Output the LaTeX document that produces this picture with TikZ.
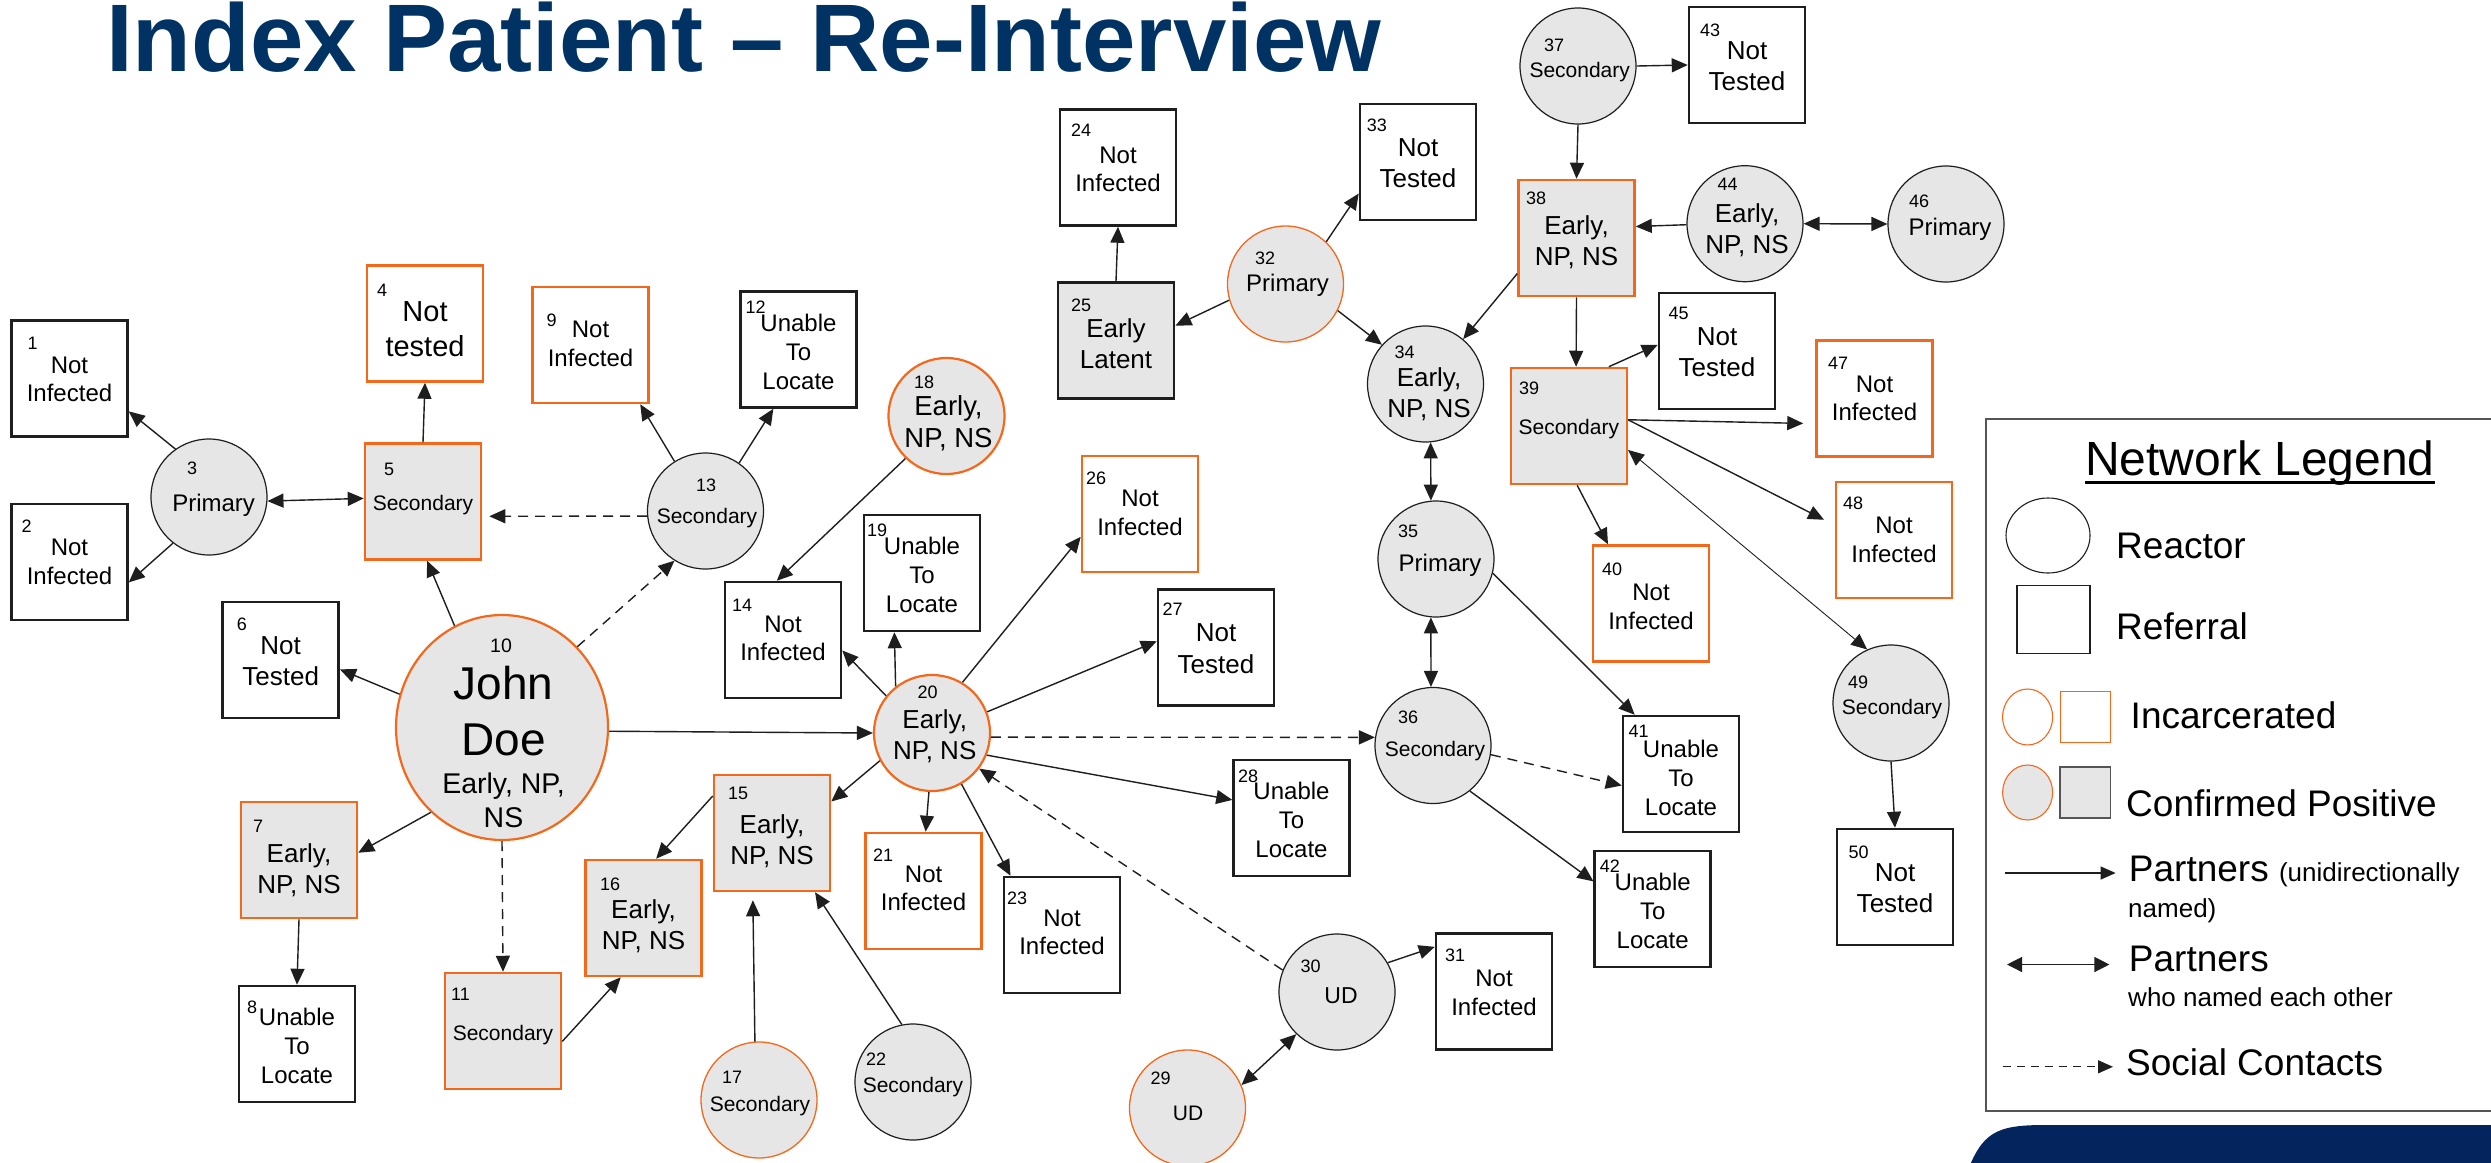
\documentclass[tikz,border=0pt]{standalone}
\usepackage{fontspec}
\setmainfont{Liberation Sans}
\usetikzlibrary{arrows.meta,calc,shapes.geometric}
\definecolor{orng}{RGB}{244,104,28}
\definecolor{gfill}{RGB}{230,230,230}
\definecolor{ink}{RGB}{30,30,30}
\definecolor{titleblue}{RGB}{0,50,100}
\definecolor{navy}{RGB}{4,36,94}
\definecolor{lgray}{RGB}{85,85,85}
\tikzset{
  box/.style={rectangle, draw=ink, line width=2.5pt, fill=white, minimum width=116pt, minimum height=116pt, inner sep=0pt},
  obox/.style={box, draw=orng},
  gobox/.style={box, draw=orng, fill=gfill},
  gbox/.style={box, fill=gfill, line width=2.8pt},
  circ/.style={circle, draw=ink, line width=1.2pt, fill=gfill, minimum size=116pt, inner sep=0pt},
  ocirc/.style={circ, draw=orng, line width=1.3pt},
  ocircT/.style={circ, draw=orng, line width=2.2pt},
  num/.style={font=\fontsize{18}{20}\selectfont, inner sep=0pt, anchor=base west},
  tNI/.style={font=\fontsize{24}{28.7}\selectfont, align=center, inner sep=0pt},
  tNT/.style={font=\fontsize{26}{31.5}\selectfont, align=center, inner sep=0pt},
  tNTs/.style={font=\fontsize{29}{35}\selectfont, align=center, inner sep=0pt},
  tU/.style={font=\fontsize{24}{29}\selectfont, align=center, inner sep=0pt},
  tE/.style={font=\fontsize{26}{31}\selectfont, align=center, inner sep=0pt},
  tEb/.style={font=\fontsize{27.5}{31.5}\selectfont, align=center, inner sep=0pt},
  tS/.style={font=\fontsize{21}{25}\selectfont, align=center, inner sep=0pt},
  tP/.style={font=\fontsize{24}{28}\selectfont, align=center, inner sep=0pt},
  tUD/.style={font=\fontsize{23}{27}\selectfont, align=center, inner sep=0pt},
  tUDs/.style={font=\fontsize{21}{25}\selectfont, align=center, inner sep=0pt},
  arr/.style={draw=ink, line width=1.4pt, -{Triangle[length=16pt,width=14pt]}},
  darr/.style={draw=ink, line width=1.4pt, {Triangle[length=16pt,width=14pt]}-{Triangle[length=16pt,width=14pt]}},
  dasharr/.style={arr, dash pattern=on 10pt off 7pt},
  lt/.style={font=\fontsize{37}{40}\selectfont, anchor=base west, inner sep=0pt},
  lts/.style={font=\fontsize{26}{28}\selectfont, anchor=base west, inner sep=0pt},
  larr/.style={draw=ink, line width=1.3pt, -{Triangle[length=15pt,width=13pt]}},
}
\newcommand\PN[8]{%
  \node[#1] (n#2) at (#3) {};
  \node[num] (k#2) at ($(n#2.center)+(#4)$) {#5};
  \node[#6] (t#2) at ($(n#2.center)+(#7)$) {#8};
}
\begin{document}
\begin{tikzpicture}[x=1pt,y=-1pt]
\useasboundingbox (0,0) rectangle (2491,1162);
\clip (0,0) rectangle (2491,1162);
\fill[white] (0,0) rectangle (2491,1162);

% title
\node[anchor=base west, inner sep=0pt, text=titleblue, font=\fontsize{96}{100}\selectfont\bfseries] (title) at (106,71) {Index Patient – Re-Interview};

% nodes
\PN{box}{1}{69.5,378.5}{-42,-29.5}{1}{tNI}{0,1}{Not\\Infected}
\PN{box}{2}{69.5,562}{-48,-30}{2}{tNI}{0,0}{Not\\Infected}
\PN{circ}{3}{209,497}{-22,-23}{3}{tP}{4.6,7.9}{Primary}
\PN{obox}{4}{425,323.5}{-48,-27.5}{4}{tNTs}{0,5.3}{Not\\tested}
\PN{gobox}{5}{423,501.5}{-39,-26}{5}{tS}{0,3.5}{Secondary}
\PN{box}{6}{280.7,660}{-44,-30}{6}{tNT}{0,1}{Not\\Tested}
\PN{gobox}{7}{299,860}{-46,-27.5}{7}{tE}{0,10}{Early,\\NP, NS}
\PN{box}{8}{297,1044}{-50,-31}{8}{tU}{0,2}{Unable\\To\\Locate}
\PN{obox}{9}{590.5,345}{-44,-18.5}{9}{tNI}{0,-1}{Not\\Infected}
\PN{gobox}{11}{503,1031}{-52,-31}{11}{tS}{0,3.9}{Secondary}
\PN{box}{12}{798.5,349.5}{-53,-36.5}{12}{tU}{0,2}{Unable\\To\\Locate}
\PN{circ}{13}{705.5,511}{-9.5,-20}{13}{tS}{1.5,7.5}{Secondary}
\PN{box}{14}{783,640}{-51,-29}{14}{tNI}{0,-1.7}{Not\\Infected}
\PN{gobox}{15}{772,833}{-44,-33.6}{15}{tE}{0,7.9}{Early,\\NP, NS}
\PN{gobox}{16}{643.5,918}{-43.5,-28}{16}{tE}{0,7.9}{Early,\\NP, NS}
\PN{ocirc}{17}{759,1100}{-37,-17}{17}{tS}{1,6.5}{Secondary}
\PN{ocircT}{18}{946.5,416}{-32.5,-27.5}{18}{tEb}{2,7.1}{Early,\\NP, NS}
\PN{box}{19}{922,573}{-55,-37}{19}{tU}{0,2}{Unable\\To\\Locate}
\PN{ocircT}{20}{932,733}{-14.5,-35}{20}{tE}{2.7,2.9}{Early,\\NP, NS}
\PN{obox}{21}{923.6,891}{-50.6,-29.3}{21}{tNI}{0,-2.8}{Not\\Infected}
\PN{circ}{22}{913,1082}{-47,-16.3}{22}{tS}{0,5.5}{Secondary}
\PN{box}{23}{1062,935}{-55,-31}{23}{tNI}{0,-2.8}{Not\\Infected}
\PN{box}{24}{1118,167.5}{-47,-31}{24}{tNI}{0,2}{Not\\Infected}
\PN{gbox}{25}{1116,340.5}{-45,-29}{25}{tNT}{0,3.4}{Early\\Latent}
\PN{obox}{26}{1140,514}{-54,-30}{26}{tNI}{0,-0.8}{Not\\Infected}
\PN{box}{27}{1216,647.5}{-53.5,-31.7}{27}{tNT}{0,1}{Not\\Tested}
\PN{box}{28}{1291.5,818}{-53.5,-36}{28}{tU}{0,2}{Unable\\To\\Locate}
\PN{ocirc}{29}{1187.5,1108}{-37,-24}{29}{tUDs}{0.5,5.5}{UD}
\PN{circ}{30}{1337,992}{-36.5,-20}{30}{tUD}{4,3.8}{UD}
\PN{box}{31}{1494,991.5}{-49,-29.8}{31}{tNI}{0,1.4}{Not\\Infected}
\PN{ocirc}{32}{1285.5,284}{-30.5,-20}{32}{tP}{2,0.9}{Primary}
\PN{box}{33}{1418,162}{-51.3,-30.3}{33}{tNT}{0,1}{Not\\Tested}
\PN{circ}{34}{1425.5,384}{-31,-26}{34}{tE}{3.5,9.9}{Early,\\NP, NS}
\PN{circ}{35}{1436,559}{-38,-21.4}{35}{tP}{4,5.9}{Primary}
\PN{circ}{36}{1433,745.5}{-35,-22}{36}{tS}{2,5.5}{Secondary}
\PN{circ}{37}{1578,66}{-34,-14.3}{37}{tS}{1.7,5.8}{Secondary}
\PN{gobox}{38}{1576.5,238}{-50.5,-34}{38}{tE}{0,3.8}{Early,\\NP, NS}
\PN{gobox}{39}{1568.8,426}{-50,-32}{39}{tS}{0,3.5}{Secondary}
\PN{obox}{40}{1651,603.5}{-49,-28.5}{40}{tNI}{0,3.5}{Not\\Infected}
\PN{box}{41}{1681,774}{-52.5,-36.4}{41}{tU}{0,4}{Unable\\To\\Locate}
\PN{box}{42}{1652.7,909}{-53,-36.6}{42}{tU}{0,2}{Unable\\To\\Locate}
\PN{box}{43}{1747,65}{-47,-28.3}{43}{tNT}{0,1}{Not\\Tested}
\PN{circ}{44}{1745,223.7}{-27.5,-33}{44}{tE}{2,6.4}{Early,\\NP, NS}
\PN{box}{45}{1717,351}{-48.6,-31.7}{45}{tNT}{0,1}{Not\\Tested}
\PN{circ}{46}{1946,224}{-37,-17}{46}{tP}{4,4.9}{Primary}
\PN{obox}{47}{1874.5,398.5}{-46.5,-29.5}{47}{tNI}{0,0}{Not\\Infected}
\PN{obox}{48}{1894,540}{-51,-30.5}{48}{tNI}{0,0}{Not\\Infected}
\PN{circ}{49}{1891,703}{-43,-15}{49}{tS}{1,6.5}{Secondary}
\PN{box}{50}{1895,887}{-46.5,-28.4}{50}{tNT}{0,1}{Not\\Tested}

% John Doe
\node[ellipse, draw=orng, line width=2.2pt, fill=gfill, minimum width=212pt, minimum height=225pt, inner sep=0pt] (n10) at (502,727.5) {};
\node[num, font=\fontsize{19.5}{21}\selectfont] (k10) at ($(n10.center)+(-12,-75.2)$) {10};
\node[anchor=base, inner sep=0pt, font=\fontsize{46}{50}\selectfont] (t10a) at ($(n10.center)+(1.5,-28.5)$) {John};
\node[anchor=base, inner sep=0pt, font=\fontsize{46}{50}\selectfont] (t10b) at ($(n10.center)+(1.5,28.2)$) {Doe};
\node[anchor=base, inner sep=0pt, font=\fontsize{28.5}{31}\selectfont] (t10c) at ($(n10.center)+(1.5,65.8)$) {Early, NP,};
\node[anchor=base, inner sep=0pt, font=\fontsize{28.5}{31}\selectfont] (t10d) at ($(n10.center)+(1.5,100.2)$) {NS};

% connectors
\draw[arr] (n3.125) -- (n1.-29);
\draw[arr] (n3.232) -- (n2.-19);
\draw[darr] (n3.-4) -- (n5.177);
\draw[arr] (n5.north) -- (n4.south);
\draw[arr] (n10.115) -- (n5.-86);
\draw[arr] (n10.162) -- (n6.-9);
\draw[arr] (n10.230) -- (n7.7);
\draw[dasharr] (n10.47) -- (n13.238);
\draw[dasharr, shorten >=7pt] (n13.185) -- (n5.-14);
\draw[arr] (n13.122) -- (n9.-50);
\draw[arr] (n13.55) -- (n12.-113);
\draw[dasharr] (n10.south) -- (n11.north);
\draw[arr] (n7.south) -- (n8.north);
\draw[arr] (n11.-10) -- (n16.-111);
\draw[arr] (n10.-2) -- (n20.west);
\draw[arr] (n18.226) -- (n14.96);
\draw[arr] (n20.141) -- (n14.-10);
\draw[arr] (n20.128) -- (n19.-115);
\draw[arr] (n20.59) -- (n26.201);
\draw[arr] (n20.21) -- (n27.174);
\draw[dasharr] (n20.-4) -- (n36.172);
\draw[arr] (n20.-22) -- (n28.163);
\draw[arr] (n20.208) -- (n15.28);
\draw[arr] (n20.-93) -- (n21.88);
\draw[arr] (n20.-60) -- (n23.131);
\draw[dasharr] (n30.158) -- (n20.-37);
\draw[arr] (n15.148) -- (n16.78);
\draw[arr, shorten >=8pt] (n17.94) -- (n15.-108);
\draw[arr] (n22.101) -- (n15.-54);
\draw[arr] (n30.30) -- (n31.143);
\draw[darr] (n29.23) -- (n30.226);
\draw[arr] (n25.north) -- (n24.south);
\draw[arr] (n32.196) -- (n25.14);
\draw[arr] (n32.46) -- (n33.208);
\draw[arr] (n32.-27) -- (n34.138);
\draw[arr] (n38.211) -- (n34.50);
\draw[darr] (n34.-85) -- (n35.95);
\draw[darr] (n35.-95) -- (n36.92);
\draw[arr] (n35.-14) -- (n41.128);
\draw[dasharr] (n36.-9) -- (n41.191);
\draw[arr] (n36.-51) -- (n42.155);
\draw[arr] (n37.east) -- (n43.west);
\draw[arr] (n37.south) -- (n38.north);
\draw[arr] (n44.181) -- (n38.11);
\draw[darr] (n44.east) -- (n46.west);
\draw[arr] (n38.south) -- (n39.83);
\draw[arr] (n39.56) -- (n45.174);
\draw[arr, shorten >=12pt] (n39.6) -- (n47.203);
\draw[arr, shorten >=12pt] (n39.6) -- (n48.166);
\draw[arr] (n39.-82) -- (n40.126);
\draw[draw=ink, line width=0.9pt, {Triangle[length=16pt,width=14pt]}-{Triangle[length=16pt,width=14pt]}] (n39.-22) -- (n49.114);
\draw[arr] (n49.south) -- (n50.north);

% legend
\draw[lgray, line width=1.3pt] (2520,419) -- (1986,419) -- (1986,1111) -- (2520,1111);
\node[anchor=base west, inner sep=0pt, font=\fontsize{48}{52}\selectfont] (lgt) at (2085,475) {Network Legend};
\draw[line width=2.6pt] ($(lgt.base west)+(0,7.5)$) -- ($(lgt.base east)+(0,7.5)$);
\node[ellipse, draw=ink, line width=1.1pt, minimum width=84pt, minimum height=75pt, inner sep=0pt] (lr) at (2048,535.5) {};
\node[lt] (lrt) at (2116,558.6) {Reactor};
\node[rectangle, draw=ink, line width=1.3pt, minimum width=73pt, minimum height=68pt, inner sep=0pt] (lf) at (2053.5,619.7) {};
\node[lt] (lft) at (2116,639.4) {Referral};
\node[ellipse, draw=orng, line width=1.1pt, minimum width=50pt, minimum height=56pt, inner sep=0pt] (li1) at (2027.6,717) {};
\node[rectangle, draw=orng, line width=1.1pt, minimum width=50.5pt, minimum height=51pt, inner sep=0pt] (li2) at (2085.3,717.2) {};
\node[lt] (lit) at (2130.5,728) {Incarcerated};
\node[ellipse, draw=orng, fill=gfill, line width=1.1pt, minimum width=50pt, minimum height=55pt, inner sep=0pt] (lc1) at (2027.6,792.5) {};
\node[rectangle, draw=lgray, fill=gfill, line width=1.3pt, minimum width=50.5pt, minimum height=51pt, inner sep=0pt] (lc2) at (2085.3,792.5) {};
\node[lt] (lct) at (2126,816) {Confirmed Positive};
\coordinate (la1) at (2005,873);
\coordinate (la2) at (2115.6,873);
\draw[larr] (la1) -- (la2);
\node[lt] (lp1) at (2128.7,881) {Partners {\fontsize{26}{28}\selectfont(unidirectionally}};
\node[lts] (lp1b) at (2128,917.6) {named)};
\coordinate (lb1) at (2007,964.5);
\coordinate (lb2) at (2109.4,964.5);
\draw[draw=ink, line width=1.3pt, {Triangle[length=15pt,width=15pt]}-{Triangle[length=15pt,width=15pt]}] (lb1) -- (lb2);
\node[lt] (lp2) at (2128.7,971) {Partners};
\node[lts] (lp2b) at (2128,1006) {who named each other};
\coordinate (lc1a) at (2002.5,1066.8);
\coordinate (lc2a) at (2113,1066.8);
\draw[larr, dash pattern=on 8pt off 6pt] (lc1a) -- (lc2a);
\node[lt] (lsc) at (2126,1075.7) {Social Contacts};

% bottom-right band
\fill[navy] (1966,1175) .. controls (1982,1132) and (1996,1125) .. (2045,1125) -- (2520,1125) -- (2520,1175) -- cycle;
\end{tikzpicture}
\end{document}
